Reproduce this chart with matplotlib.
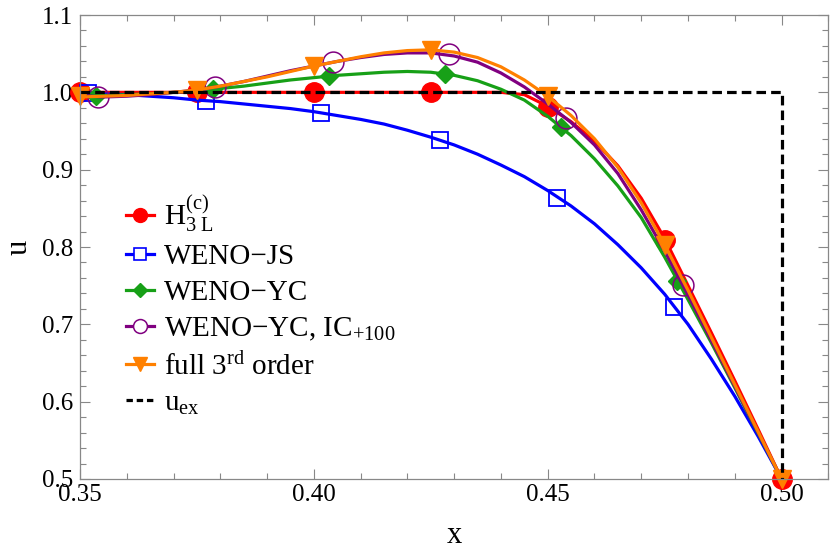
import numpy as np
import matplotlib
matplotlib.use('Agg')
import matplotlib.pyplot as plt
from matplotlib.lines import Line2D
from matplotlib.ticker import MultipleLocator

plt.rcParams['font.family'] = ['Liberation Serif', 'DejaVu Serif']
plt.rcParams['mathtext.fontset'] = 'custom'
plt.rcParams['mathtext.rm'] = 'Liberation Serif'
plt.rcParams['mathtext.it'] = 'Liberation Serif:italic'

x_grid = np.linspace(0.35, 0.50, 31)
red_y = [1.000, 1.000, 1.000, 1.000, 1.000, 1.000, 1.000, 1.000, 1.000, 1.000,
         1.000, 1.000, 1.000, 1.000, 1.000, 1.000, 1.000, 1.000, 1.000, 0.997,
         0.982, 0.962, 0.937, 0.905, 0.863, 0.811, 0.750, 0.689, 0.627, 0.564, 0.500]
blue_y = [1.000, 0.998, 0.997, 0.995, 0.993, 0.990, 0.988, 0.985, 0.982, 0.979,
          0.975, 0.970, 0.965, 0.959, 0.951, 0.942, 0.932, 0.920, 0.906, 0.891,
          0.873, 0.853, 0.830, 0.803, 0.773, 0.739, 0.700, 0.655, 0.607, 0.555, 0.500]
green_y = [0.996, 0.996, 0.997, 0.998, 1.000, 1.002, 1.005, 1.008, 1.012, 1.016,
           1.019, 1.022, 1.024, 1.026, 1.027, 1.026, 1.022, 1.015, 1.004, 0.990,
           0.969, 0.944, 0.914, 0.879, 0.838, 0.787, 0.732, 0.676, 0.618, 0.559, 0.500]
purple_y = [0.996, 0.994, 0.995, 0.997, 1.000, 1.003, 1.008, 1.014, 1.021, 1.028,
            1.034, 1.040, 1.045, 1.049, 1.051, 1.051, 1.047, 1.039, 1.025, 1.007,
            0.985, 0.961, 0.932, 0.895, 0.848, 0.795, 0.738, 0.679, 0.620, 0.560, 0.500]
orange_y = [0.994, 0.995, 0.996, 0.998, 1.000, 1.003, 1.008, 1.014, 1.020, 1.027,
            1.034, 1.040, 1.046, 1.051, 1.054, 1.055, 1.052, 1.045, 1.033, 1.016,
            0.995, 0.970, 0.940, 0.903, 0.857, 0.803, 0.744, 0.683, 0.622, 0.561, 0.500]

# plot markers
red_mx = [0.35, 0.375, 0.40, 0.425, 0.45, 0.475, 0.50]
red_my = [1.000, 1.000, 1.000, 1.000, 0.981, 0.809, 0.500]
blue_mx = [0.3517, 0.3769, 0.4016, 0.427, 0.452, 0.477]
blue_my = [0.999, 0.989, 0.973, 0.938, 0.864, 0.722]
green_mx = [0.3534, 0.3784, 0.4032, 0.428, 0.4528, 0.4776]
green_my = [0.995, 1.004, 1.021, 1.024, 0.955, 0.756]
purple_mx = [0.3538, 0.3788, 0.404, 0.429, 0.4539, 0.4789]
purple_my = [0.994, 1.007, 1.039, 1.049, 0.967, 0.751]
orange_mx = [0.35, 0.375, 0.40, 0.425, 0.45, 0.475, 0.50]
orange_my = [0.995, 1.003, 1.034, 1.055, 0.995, 0.802, 0.500]

exact_x = [0.35, 0.50, 0.50, 0.51]
exact_y = [1.0, 1.0, 0.0, 0.0]

labels = [r'$\mathrm{H}_{3\ \mathrm{L}}^{(\mathrm{c})}$', 'WENO\u2212JS', 'WENO\u2212YC',
          r'WENO$\mathrm{-}$YC, IC$_{+100}$', r'full 3$^{\mathrm{rd}}$ order', r'u$_{\mathrm{ex}}$']

RED = '#ff0000'
BLUE = '#0000ff'
GREEN = '#17a017'
PURPLE = '#800080'
ORANGE = '#ff8000'

fig = plt.figure(figsize=(8.3, 5.56), dpi=100)
ax = fig.add_axes([0.0964, 0.1385, 0.9016, 0.8345])

lw = 2.3
ax.plot(x_grid, red_y, color=RED, lw=lw)
ax.plot(red_mx, red_my, 'o', color=RED, ms=14, clip_on=False)
ax.plot(x_grid, blue_y, color=BLUE, lw=lw)
ax.plot(blue_mx, blue_my, 's', mfc='none', mec=BLUE, mew=1.3, ms=12, clip_on=False)
ax.plot(x_grid, green_y, color=GREEN, lw=lw)
ax.plot(green_mx, green_my, 'D', color=GREEN, ms=9, clip_on=False)
ax.plot(x_grid, purple_y, color=PURPLE, lw=lw)
ax.plot(purple_mx, purple_my, 'o', mfc='none', mec=PURPLE, mew=1.1, ms=15, clip_on=False)
ax.plot(x_grid, orange_y, color=ORANGE, lw=lw)
ax.plot(orange_mx, orange_my, 'v', color=ORANGE, ms=13, clip_on=False)
ax.plot(exact_x, exact_y, color='black', lw=2.3, ls=(0, (3, 1.6)))

ax.set_xlim(0.35, 0.51)
ax.set_ylim(0.5, 1.1)
ax.xaxis.set_major_locator(MultipleLocator(0.05))
ax.xaxis.set_minor_locator(MultipleLocator(0.01))
ax.yaxis.set_major_locator(MultipleLocator(0.1))
ax.yaxis.set_minor_locator(MultipleLocator(0.02))
ax.xaxis.set_major_formatter(plt.FuncFormatter(lambda v, p: '%.2f' % v))
ax.yaxis.set_major_formatter(plt.FuncFormatter(lambda v, p: '%.1f' % v))
ax.tick_params(which='both', direction='in', top=True, right=True, color='#888888',
               labelsize=18, width=0.8)
ax.tick_params(which='major', length=7)
ax.tick_params(which='minor', length=4)
ax.tick_params(axis='y', pad=5)
for s in ax.spines.values():
    s.set_color('#888888')
    s.set_linewidth(0.9)

ax.set_xlabel('x', fontsize=22, labelpad=11)
ax.set_ylabel('u', fontsize=22, labelpad=6)

handles = [
    Line2D([], [], color=RED, lw=lw, marker='o', ms=10),
    Line2D([], [], color=BLUE, lw=lw, marker='s', mfc='white', mec=BLUE, mew=1.2, ms=9),
    Line2D([], [], color=GREEN, lw=lw, marker='D', ms=7),
    Line2D([], [], color=PURPLE, lw=lw, marker='o', mfc='white', mec=PURPLE, mew=1.1, ms=10),
    Line2D([], [], color=ORANGE, lw=lw, marker='v', ms=10),
    Line2D([], [], color='black', lw=2.3, ls=(0, (2, 1.2))),
]
ax.legend(handles, labels, loc='upper left', bbox_to_anchor=(0.062, 0.615), frameon=False,
          fontsize=21, handlelength=0.95, handletextpad=0.35, labelspacing=0.33,
          borderaxespad=0, borderpad=0)

fig.savefig('out.png', dpi=100)
